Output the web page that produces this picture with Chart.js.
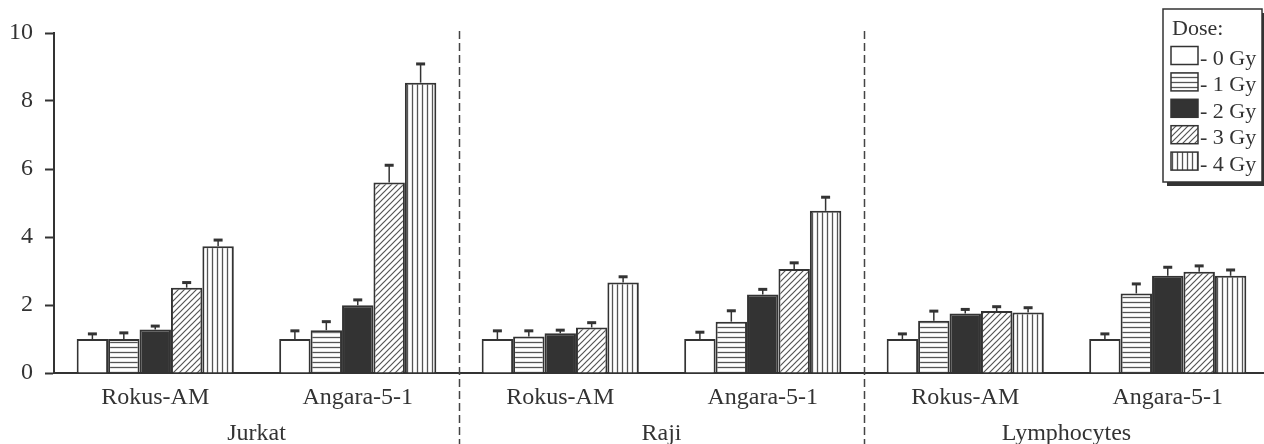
<!DOCTYPE html>
<html>
<head>
<meta charset="utf-8">
<script src="https://cdn.jsdelivr.net/npm/chart.js@4.4.0/dist/chart.umd.min.js"></script>
<style>
  html, body { margin: 0; padding: 0; background: #fff; }
  #wrap { width: 1264px; height: 444px; overflow: hidden; }
</style>
</head>
<body>
<div id="wrap"><canvas id="c" width="1270" height="444"></canvas></div>
<script>
// ---- data ----
const categories = ['Rokus-AM', 'Angara-5-1', 'Rokus-AM', 'Angara-5-1', 'Rokus-AM', 'Angara-5-1'];
const groups = ['Jurkat', 'Raji', 'Lymphocytes'];
const doseLabels = ['- 0 Gy', '- 1 Gy', '- 2 Gy', '- 3 Gy', '- 4 Gy'];
const yTicks = [0, 2, 4, 6, 8, 10];

const dose0 = [1.00, 1.00, 1.00, 1.00, 1.00, 1.00];
const dose1 = [1.00, 1.26, 1.07, 1.51, 1.54, 2.34];
const dose2 = [1.28, 1.99, 1.17, 2.31, 1.75, 2.86];
const dose3 = [2.51, 5.60, 1.34, 3.06, 1.82, 2.98];
const dose4 = [3.73, 8.54, 2.66, 4.77, 1.78, 2.86];

const err0 = [0.15, 0.24, 0.24, 0.20, 0.15, 0.15];
const err1 = [0.18, 0.25, 0.17, 0.32, 0.28, 0.28];
const err2 = [0.10, 0.16, 0.09, 0.15, 0.12, 0.25];
const err3 = [0.15, 0.51, 0.14, 0.18, 0.13, 0.17];
const err4 = [0.18, 0.55, 0.17, 0.40, 0.14, 0.17];

// ---- styles ----
const INK = '#333';
const STRIPE = '#555';
const FONT = '"Liberation Serif", "Times New Roman", serif';

function makePattern(kind) {
  const c = document.createElement('canvas');
  const x = c.getContext('2d');
  if (kind === 'h') {
    c.width = 8; c.height = 5;
    x.fillStyle = '#fff'; x.fillRect(0, 0, 8, 5);
    x.strokeStyle = STRIPE; x.lineWidth = 1.3;
    x.beginPath(); x.moveTo(0, 2.5); x.lineTo(8, 2.5); x.stroke();
  } else if (kind === 'v') {
    c.width = 5; c.height = 8;
    x.fillStyle = '#fff'; x.fillRect(0, 0, 5, 8);
    x.strokeStyle = STRIPE; x.lineWidth = 1.3;
    x.beginPath(); x.moveTo(2.5, 0); x.lineTo(2.5, 8); x.stroke();
  } else if (kind === 'd') {
    c.width = 6; c.height = 6;
    x.fillStyle = '#fff'; x.fillRect(0, 0, 6, 6);
    x.strokeStyle = STRIPE; x.lineWidth = 1.2;
    x.beginPath();
    x.moveTo(-1, 7); x.lineTo(7, -1);
    x.moveTo(-4, 4); x.lineTo(4, -4);
    x.moveTo(2, 10); x.lineTo(10, 2);
    x.stroke();
  }
  return x.createPattern(c, 'repeat');
}
const fills = ['#ffffff', makePattern('h'), '#333333', makePattern('d'), makePattern('v')];

const seriesValues = [dose0, dose1, dose2, dose3, dose4];
const seriesErrors = [err0, err1, err2, err3, err4];

const datasets = seriesValues.map((vals, i) => ({
  label: doseLabels[i],
  data: vals,
  errors: seriesErrors[i],
  backgroundColor: fills[i],
  borderColor: INK,
  borderWidth: 2,
  borderSkipped: 'bottom',
  categoryPercentage: 0.776,
  barPercentage: 1.0
}));

// error bars (upper whisker only)
const errorBarPlugin = {
  id: 'errorBars',
  afterDatasetsDraw(chart) {
    const ctx = chart.ctx;
    const ys = chart.scales.y;
    ctx.save();
    ctx.strokeStyle = INK;
    chart.data.datasets.forEach((ds, di) => {
      const meta = chart.getDatasetMeta(di);
      meta.data.forEach((el, i) => {
        const top = ys.getPixelForValue(ds.data[i] + ds.errors[i]);
        ctx.lineWidth = 1.5;
        ctx.beginPath();
        ctx.moveTo(el.x, el.y);
        ctx.lineTo(el.x, top);
        ctx.stroke();
        ctx.lineWidth = 3;
        ctx.beginPath();
        ctx.moveTo(el.x - 4.5, top);
        ctx.lineTo(el.x + 4.5, top);
        ctx.stroke();
      });
    });
    ctx.restore();
  }
};

// group labels + dashed separators
const groupPlugin = {
  id: 'groups',
  afterDraw(chart) {
    const ctx = chart.ctx;
    const xs = chart.scales.x;
    const area = chart.chartArea;
    ctx.save();
    ctx.strokeStyle = '#444';
    ctx.lineWidth = 1.5;
    ctx.setLineDash([8, 4]);
    for (let g = 1; g < groups.length; g++) {
      const xp = Math.round((xs.getPixelForValue(2 * g - 1) + xs.getPixelForValue(2 * g)) / 2) + 0.5;
      ctx.beginPath();
      ctx.moveTo(xp, area.top - 2);
      ctx.lineTo(xp, chart.height);
      ctx.stroke();
    }
    ctx.setLineDash([]);
    ctx.fillStyle = INK;
    ctx.font = '24px ' + FONT;
    ctx.textAlign = 'center';
    ctx.textBaseline = 'alphabetic';
    groups.forEach((g, k) => {
      const xc = (xs.getPixelForValue(2 * k) + xs.getPixelForValue(2 * k + 1)) / 2;
      ctx.fillText(g, xc, 440);
    });
    ctx.restore();
  }
};

// legend box
const legendPlugin = {
  id: 'doseLegend',
  afterDraw(chart) {
    const ctx = chart.ctx;
    const bx = 1163, by = 9, bw = 99, bh = 173;
    ctx.save();
    ctx.fillStyle = '#333';
    ctx.fillRect(bx + 4, by + 4, bw, bh);
    ctx.fillStyle = '#fff';
    ctx.fillRect(bx, by, bw, bh);
    ctx.strokeStyle = INK;
    ctx.lineWidth = 1.5;
    ctx.strokeRect(bx, by, bw, bh);
    ctx.fillStyle = INK;
    ctx.font = '22px ' + FONT;
    ctx.textAlign = 'left';
    ctx.textBaseline = 'alphabetic';
    ctx.fillText('Dose:', 1172, 35);
    chart.data.datasets.forEach((ds, i) => {
      const sy = 46.5 + i * 26.4;
      ctx.fillStyle = ds.backgroundColor;
      ctx.fillRect(1171, sy, 27, 18);
      ctx.strokeStyle = INK;
      ctx.lineWidth = 1.5;
      ctx.strokeRect(1171, sy, 27, 18);
      ctx.fillStyle = INK;
      ctx.fillText(ds.label, 1200, sy + 18.5);
    });
    ctx.restore();
  }
};

new Chart(document.getElementById('c'), {
  type: 'bar',
  data: { labels: categories, datasets },
  options: {
    responsive: false,
    devicePixelRatio: 1,
    animation: false,
    events: [],
    layout: { padding: { top: 33, left: 0, right: 1, bottom: 0 } },
    plugins: { legend: { display: false }, tooltip: { enabled: false } },
    scales: {
      x: {
        type: 'category',
        offset: true,
        grid: { display: true, drawOnChartArea: false, drawTicks: false },
        border: { display: true, color: INK, width: 2 },
        ticks: { color: INK, font: { family: FONT, size: 24 }, padding: 10, maxRotation: 0, autoSkip: false },
        afterFit(s) { s.height = 71; }
      },
      y: {
        min: 0,
        max: 10,
        afterBuildTicks(s) { s.ticks = yTicks.map(v => ({ value: v })); },
        grid: { display: true, drawOnChartArea: false, drawTicks: true, tickLength: 9, color: INK, tickWidth: 2 },
        border: { display: true, color: INK, width: 2 },
        ticks: { color: INK, font: { family: FONT, size: 24 }, padding: 12 },
        afterFit(s) { s.width = 54; }
      }
    }
  },
  plugins: [errorBarPlugin, groupPlugin, legendPlugin]
});
</script>
</body>
</html>
